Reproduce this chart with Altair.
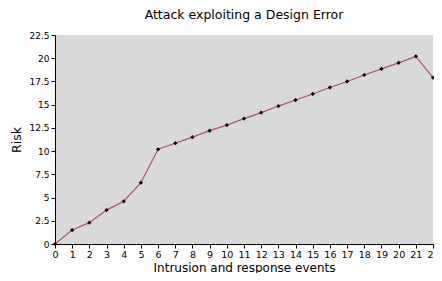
import altair as alt
import pandas as pd

events = list(range(23))
risk = [0, 1.5, 2.3, 3.65, 4.6, 6.6, 10.2, 10.85, 11.5, 12.2, 12.8, 13.5, 14.15,
        14.85, 15.5, 16.15, 16.85, 17.5, 18.2, 18.85, 19.5, 20.2, 17.9]
risk_ticks = [0, 2.5, 5, 7.5, 10, 12.5, 15, 17.5, 20, 22.5]

df = pd.DataFrame({"events": events, "risk": risk})

x = alt.X("events:Q", title="Intrusion and response events",
          scale=alt.Scale(domain=[0, 22], nice=False, zero=True),
          axis=alt.Axis(values=events, format="d", tickSize=4, labelFlush=False,
                        labelPadding=1, titleY=27, titleBaseline="alphabetic",
                        domainColor="black",
                        tickColor="black", grid=False, labelFontSize=9.5,
                        titleFontSize=12, labelColor="black", titleColor="black",
                        titleFontWeight="normal", labelFont="DejaVu Sans",
                        titleFont="DejaVu Sans"))
y = alt.Y("risk:Q", title="Risk",
          scale=alt.Scale(domain=[0, 22.5], nice=False),
          axis=alt.Axis(values=risk_ticks, format=".1~f",
                        tickSize=4, labelFlush=False, labelPadding=2, titlePadding=5,
                        domainColor="black", tickColor="black", grid=False,
                        labelFontSize=9, titleFontSize=12.5, labelColor="black",
                        titleColor="black", titleFontWeight="normal",
                        labelFont="DejaVu Sans", titleFont="DejaVu Sans"))

base = alt.Chart(df).encode(x=x, y=y)
line = base.mark_line(color="#b04a7c", strokeWidth=1.2)
pts = base.mark_point(shape="diamond", filled=True, color="black", size=18, opacity=1)

chart = (line + pts).properties(
    width=378, height=209,
    title=alt.TitleParams("Attack exploiting a Design Error", fontSize=12.5,
                          fontWeight="normal", font="DejaVu Sans", color="black",
                          offset=10),
    autosize=alt.AutoSizeParams(type="none"),
    padding={"left": 47, "top": 27, "right": 1, "bottom": 29},
).configure_view(fill="#d9d9d9", stroke=None)

chart.save("out.html", embed_options={"renderer": "svg", "actions": False})
